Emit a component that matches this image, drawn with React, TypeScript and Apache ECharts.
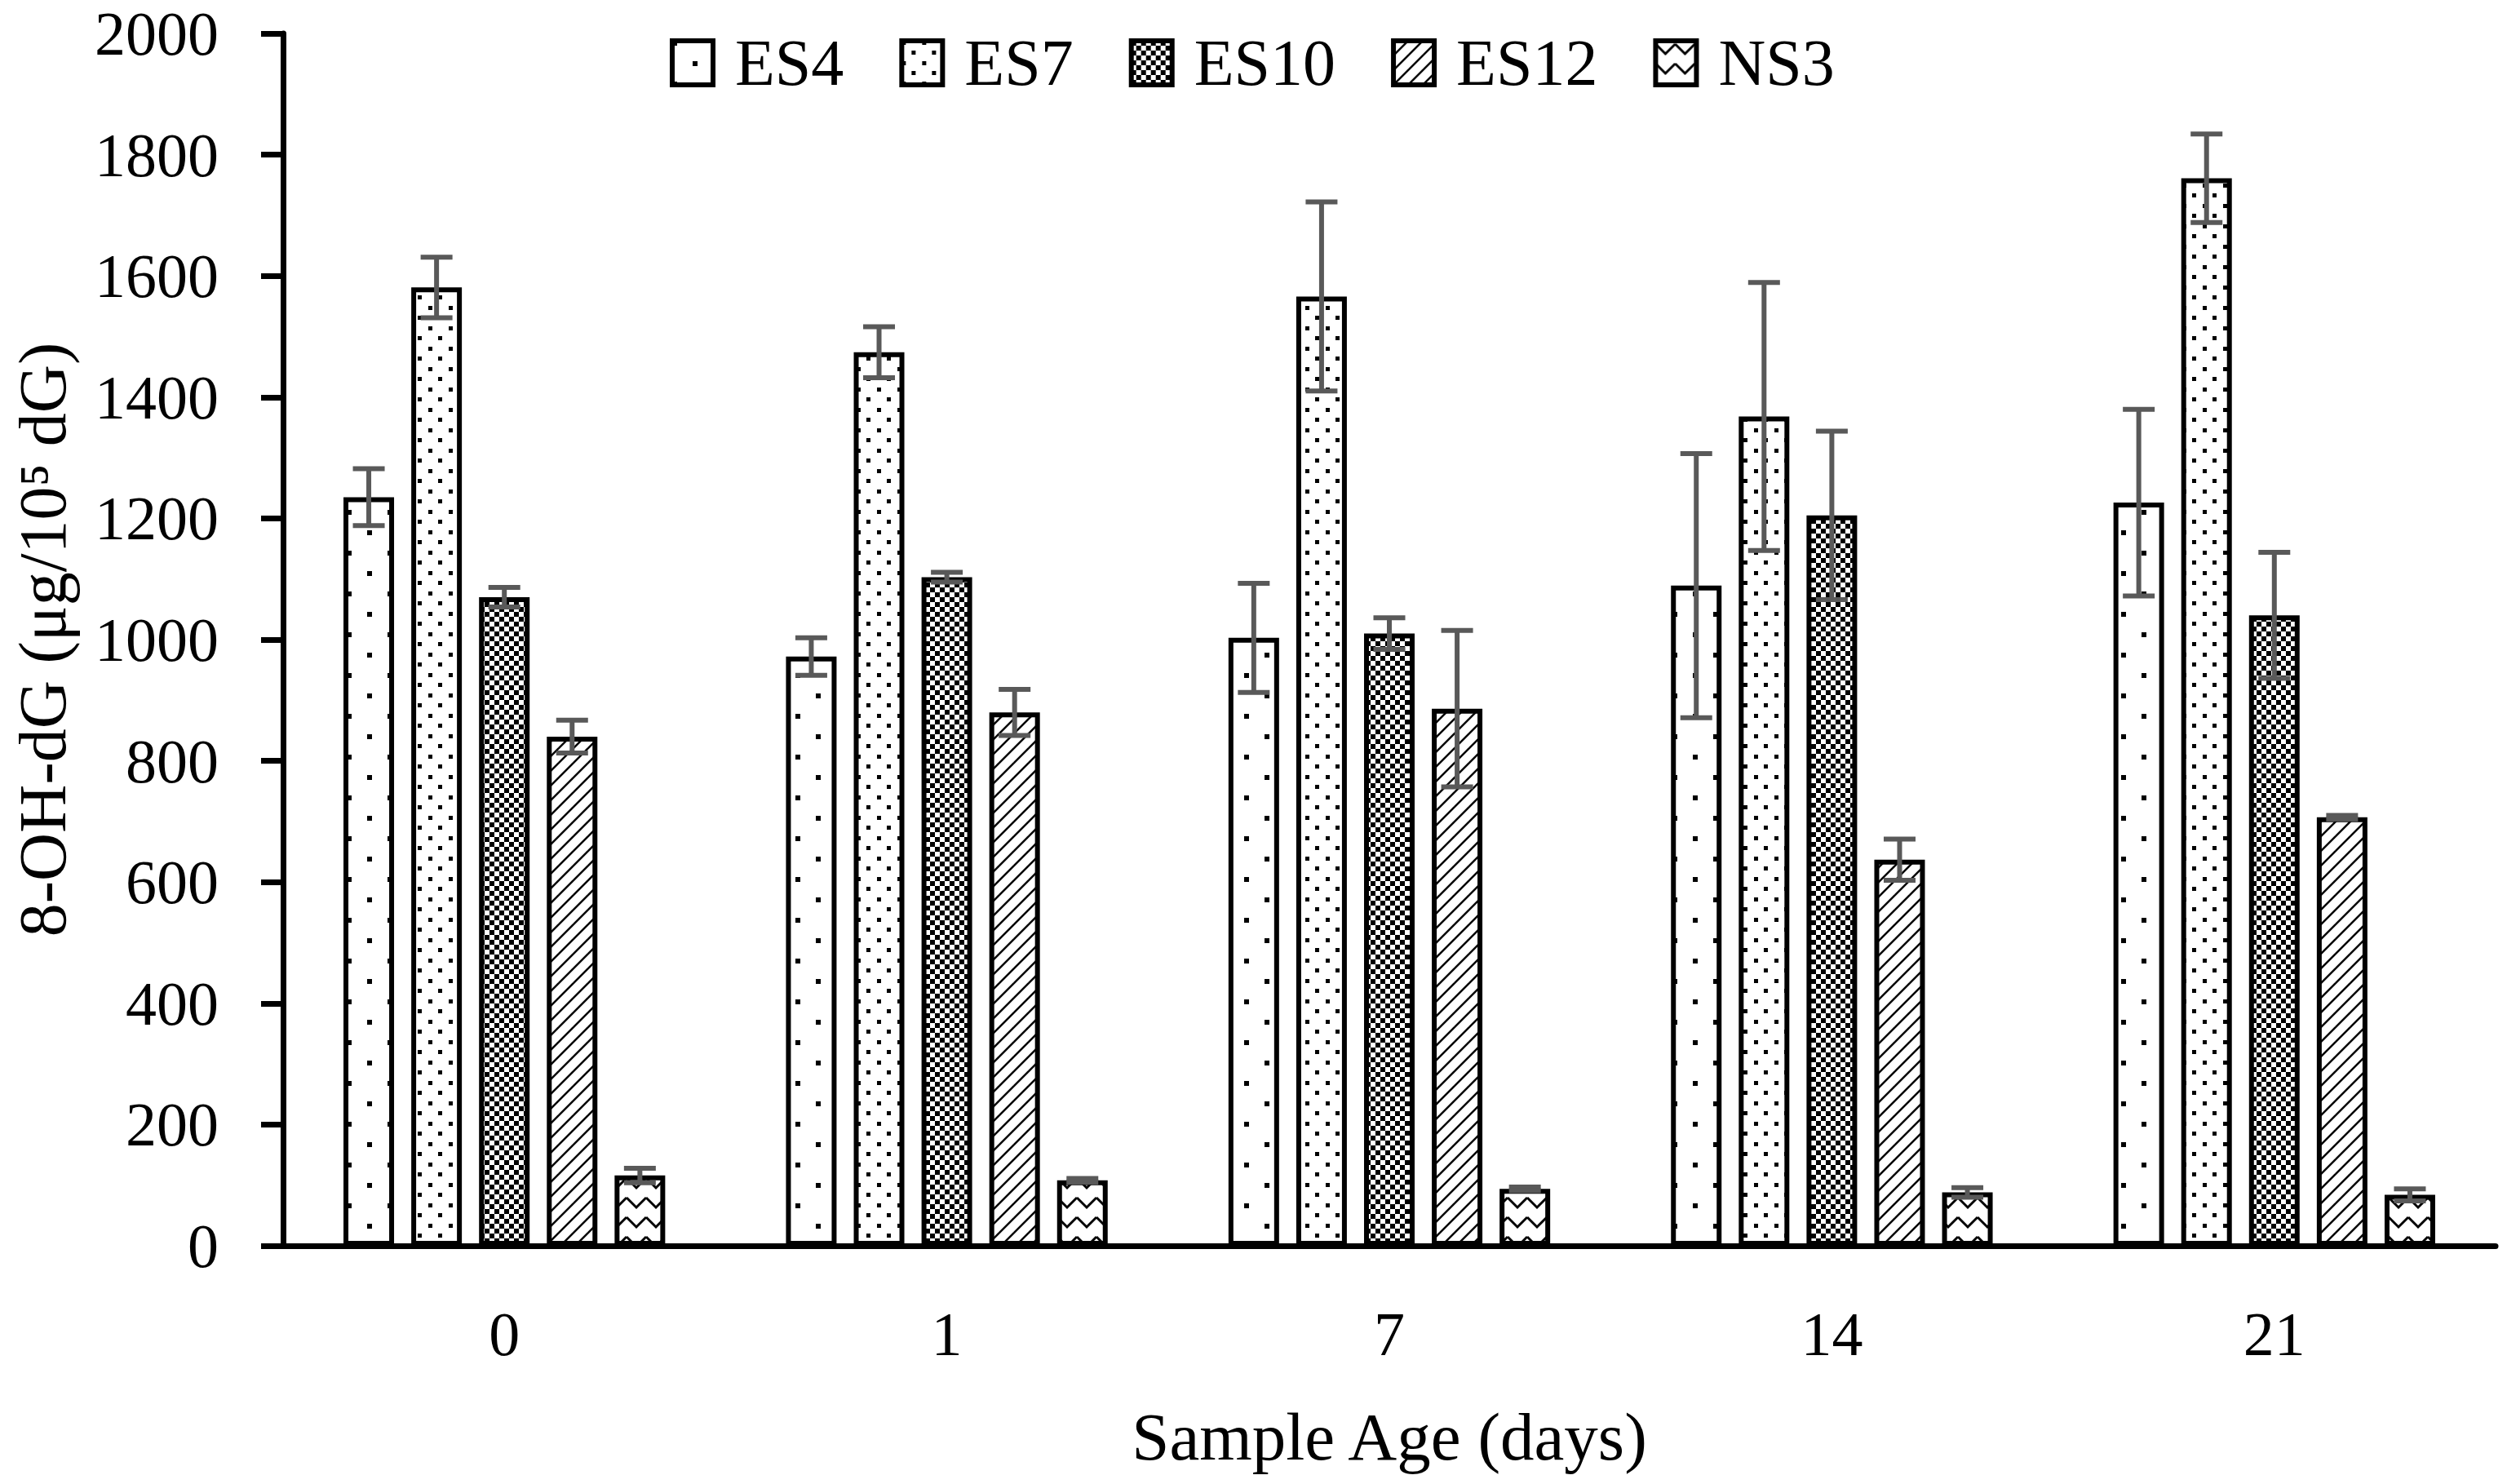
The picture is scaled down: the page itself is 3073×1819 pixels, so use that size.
import React, { useEffect, useRef } from "react";
import * as echarts from "echarts";

const categories = ["0", "1", "7", "14", "21"];
const seriesNames = ["ES4", "ES7", "ES10", "ES12", "NS3"];
const es4 = [1235, 972, 1003, 1089, 1226];
const es4Err = [47, 31, 90, 218, 154];
const es7 = [1581, 1474, 1566, 1368, 1761];
const es7Err = [50, 42, 156, 221, 73];
const es10 = [1070, 1103, 1010, 1205, 1040];
const es10Err = [16, 8, 26, 139, 104];
const es12 = [840, 880, 886, 637, 707];
const es12Err = [27, 38, 129, 34, 3];
const ns3 = [116, 108, 94, 88, 84];
const ns3Err = [12, 3, 3, 8, 10];
const yTicks = [0, 200, 400, 600, 800, 1000, 1200, 1400, 1600, 1800, 2000];

const values = [es4, es7, es10, es12, ns3];
const errors = [es4Err, es7Err, es10Err, es12Err, ns3Err];

const FONT = "Liberation Serif";
const BAR_W = 62;
const BAR_GAP = 0.34;
const PITCH = BAR_W * (1 + BAR_GAP);
const CAP = 19.5;

function makePattern(w: number, h: number, draw: (ctx: CanvasRenderingContext2D) => void) {
  const c = document.createElement("canvas");
  c.width = w;
  c.height = h;
  const ctx = c.getContext("2d") as CanvasRenderingContext2D;
  ctx.fillStyle = "#ffffff";
  ctx.fillRect(0, 0, w, h);
  ctx.fillStyle = "#000000";
  ctx.strokeStyle = "#000000";
  draw(ctx);
  return { image: c, repeat: "repeat", imageWidth: w, imageHeight: h } as any;
}

function buildPatterns() {
  const p4 = makePattern(50, 50, (ctx) => {
    ctx.fillRect(0, 0, 6, 6);
    ctx.fillRect(25, 25, 6, 6);
  });
  const p7 = makePattern(25, 25, (ctx) => {
    ctx.fillRect(0, 0, 5, 5);
    ctx.fillRect(12, 12, 5, 5);
  });
  const p10 = makePattern(12, 12, (ctx) => {
    ctx.fillRect(0, 0, 6, 6);
    ctx.fillRect(6, 6, 6, 6);
  });
  const p12 = makePattern(18, 18, (ctx) => {
    ctx.lineWidth = 2.5;
    ctx.beginPath();
    ctx.moveTo(-4, 22);
    ctx.lineTo(22, -4);
    ctx.stroke();
    ctx.beginPath();
    ctx.moveTo(-4, 4);
    ctx.lineTo(4, -4);
    ctx.stroke();
    ctx.beginPath();
    ctx.moveTo(14, 22);
    ctx.lineTo(22, 14);
    ctx.stroke();
  });
  const pn = makePattern(24, 24, (ctx) => {
    ctx.lineWidth = 3;
    ctx.beginPath();
    ctx.moveTo(0, 4);
    ctx.lineTo(12, 16);
    ctx.lineTo(24, 4);
    ctx.stroke();
  });
  return [p4, p7, p10, p12, pn];
}

export default function App() {
  const ref = useRef<HTMLDivElement>(null);
  useEffect(() => {
    if (!ref.current) return;
    const chart = echarts.init(ref.current, null, { renderer: "svg" });
    const patterns = buildPatterns();

    const barSeries = seriesNames.map((name, i) => ({
      name,
      type: "bar",
      data: values[i],
      barWidth: BAR_W,
      barGap: BAR_GAP * 100 + "%",
      itemStyle: {
        color: patterns[i],
        borderColor: "#000000",
        borderWidth: 6,
      },
      z: 2,
    }));

    const errData: number[][] = [];
    values.forEach((arr, s) => {
      arr.forEach((v, c) => {
        errData.push([c, s, v, errors[s][c]]);
      });
    });

    const errSeries = {
      type: "custom",
      name: "err",
      silent: true,
      z: 10,
      encode: { x: 0, y: 2 },
      data: errData,
      renderItem: (params: any, api: any) => {
        const c = api.value(0);
        const s = api.value(1);
        const v = api.value(2);
        const e = api.value(3);
        const p = api.coord([c, v]);
        const x = p[0] + (s - 2) * PITCH;
        const top = api.coord([c, v + e])[1];
        const bot = api.coord([c, v - e])[1];
        const st = { stroke: "#595959", lineWidth: 6 };
        return {
          type: "group",
          children: [
            { type: "line", shape: { x1: x, y1: top, x2: x, y2: bot }, style: st },
            { type: "line", shape: { x1: x - CAP, y1: top, x2: x + CAP, y2: top }, style: st },
            { type: "line", shape: { x1: x - CAP, y1: bot, x2: x + CAP, y2: bot }, style: st },
          ],
        };
      },
    };

    chart.setOption({
      animation: false,
      backgroundColor: "#ffffff",
      grid: { left: 347, right: 14, top: 41, bottom: 292, containLabel: false },
      legend: {
        data: seriesNames,
        left: 816,
        top: 32,
        icon: "rect",
        itemWidth: 50,
        itemHeight: 54,
        itemGap: 68,
        itemStyle: { borderColor: "#000000", borderWidth: 6 },
        textStyle: {
          fontFamily: FONT,
          fontSize: 80,
          color: "#000000",
          padding: [0, 0, 0, 22],
        },
      },
      xAxis: {
        type: "category",
        data: categories,
        name: "Sample Age (days)",
        nameLocation: "middle",
        nameGap: 192,
        nameTextStyle: { fontFamily: FONT, fontSize: 83, color: "#000000" },
        axisLine: { lineStyle: { color: "#000000", width: 7 } },
        axisTick: { show: false },
        axisLabel: { fontFamily: FONT, fontSize: 76, color: "#000000", margin: 70 },
        splitLine: { show: false },
      },
      yAxis: {
        type: "value",
        min: yTicks[0],
        max: yTicks[yTicks.length - 1],
        interval: yTicks[1] - yTicks[0],
        name: "8-OH-dG (μg/10⁵ dG)",
        nameLocation: "middle",
        nameRotate: 90,
        nameGap: 254,
        nameTextStyle: { fontFamily: FONT, fontSize: 82, color: "#000000" },
        axisLine: { show: true, lineStyle: { color: "#000000", width: 7 } },
        axisTick: { show: true, inside: false, length: 27, lineStyle: { color: "#000000", width: 7 } },
        axisLabel: {
          fontFamily: FONT,
          fontSize: 76,
          color: "#000000",
          margin: 79,
          formatter: (v: number) => String(v),
        },
        splitLine: { show: false },
      },
      series: [...barSeries, errSeries],
    });
    return () => chart.dispose();
  }, []);
  return (
    <div
      ref={ref}
      style={{ position: "absolute", left: 0, top: 0, width: 3073, height: 1819, background: "#fff" }}
    />
  );
}
